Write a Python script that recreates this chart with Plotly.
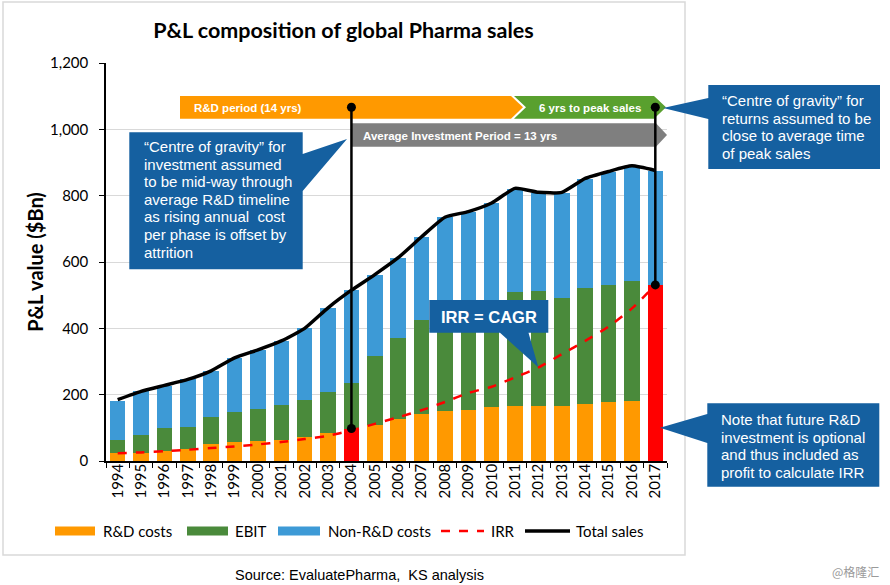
import plotly.graph_objects as go

# ---------------- data ----------------
years = list(range(1994, 2018))
rd_costs = [23, 25, 31, 37, 51, 56, 59, 64, 73, 83, 98, 110, 126, 141, 152, 154, 163, 166, 167, 167, 173, 178, 181, 0]
ebit = [40, 52, 68, 66, 83, 92, 98, 104, 111, 124, 136, 206, 246, 285, 303, 311, 312, 344, 345, 325, 350, 352, 363, 0]
profit_2017 = [0] * 23 + [531]
non_rd_costs = [119, 133, 128, 143, 137, 163, 177, 194, 216, 255, 281, 244, 241, 250, 280, 287, 302, 309, 295, 315, 327, 342, 341, 343]
irr = [23, 26, 30, 34, 39, 44, 50, 57, 66, 76, 92, 112, 132, 153, 178, 205, 224, 252, 282, 322, 362, 405, 460, 531]
total_sales = [185, 210, 228, 246, 272, 311, 335, 362, 400, 462, 515, 562, 613, 676, 735, 752, 778, 822, 810, 810, 852, 873, 890, 876]
y_ticks = [0, 200, 400, 600, 800, 1000, 1200]
y_tick_labels = ["0", "200", "400", "600", "800", "1,000", "1,200"]
highlight_year = 2004
peak_year = 2017

# ---------------- styling ----------------
ORANGE = "#FF9900"
GREEN = "#4A8A3B"
BLUE = "#3D9AD6"
RED = "#FF0000"
CALLOUT = "#1560A0"
ARROW_GREEN = "#59A02E"
GREY = "#7F7F7F"
CAL = "Lato, Carlito, Calibri, sans-serif"
ARIAL = "Liberation Sans, Arial, sans-serif"

# plot area in pixels
L, R, T, B = 106, 667, 63, 461
W, H = 890, 585


def px(x):
    return (x - L) / (R - L)


def py(y):
    return (B - y) / (B - T)


def dx(x):
    return 1993.5 + (x - L) / ((R - L) / 24)


def dy(y):
    return (B - y) * 1200 / (B - T)


rd_colors = [RED if yr == highlight_year else ORANGE for yr in years]

fig = go.Figure()
fig.add_bar(x=years, y=rd_costs, name="R&D costs", marker=dict(color=rd_colors, line=dict(width=0)))
fig.add_bar(x=years, y=ebit, name="EBIT", marker=dict(color=GREEN, line=dict(width=0)))
fig.add_bar(x=years, y=profit_2017, name="Profit", marker=dict(color=RED, line=dict(width=0)))
fig.add_bar(x=years, y=non_rd_costs, name="Non-R&D costs", marker=dict(color=BLUE, line=dict(width=0)))
fig.add_scatter(x=years, y=irr, name="IRR", mode="lines",
                line=dict(color=RED, width=2.5, dash="dash", shape="spline", smoothing=0.6))
fig.add_scatter(x=years, y=total_sales, name="Total sales", mode="lines",
                line=dict(color="black", width=3.5, shape="spline", smoothing=0.5))

# vertical "centre of gravity" lines with dots
top_y = dy(107.3)
i_h = years.index(highlight_year)
i_p = years.index(peak_year)
for xv, yv in [(highlight_year, rd_costs[i_h]), (peak_year, profit_2017[i_p])]:
    fig.add_scatter(x=[xv, xv], y=[yv, top_y], mode="lines+markers", showlegend=False,
                    line=dict(color="black", width=2.5),
                    marker=dict(color="black", size=9), hoverinfo="skip")

shapes = []
annotations = []

# outer frame
shapes.append(dict(type="rect", xref="paper", yref="paper", x0=px(3), x1=px(685), y0=py(555), y1=py(2),
                   line=dict(color="#D9D9D9", width=1.5), fillcolor="rgba(0,0,0,0)", layer="below"))


def data_path(pts):
    return "M " + " L ".join(f"{dx(a)},{dy(b)}" for a, b in pts) + " Z"


def paper_path(pts):
    return "M " + " L ".join(f"{px(a)},{py(b)}" for a, b in pts) + " Z"


# top arrows (timeline)
shapes.append(dict(type="path", xref="x", yref="y", layer="between", line=dict(width=0), fillcolor=ORANGE,
                   path=data_path([(180, 96), (511, 96), (523, 107.3), (511, 118.7), (180, 118.7)])))
shapes.append(dict(type="path", xref="x", yref="y", layer="between", line=dict(width=0), fillcolor=ARROW_GREEN,
                   path=data_path([(514, 96), (654, 96), (666, 107.3), (654, 118.7), (514, 118.7), (526, 107.3)])))
shapes.append(dict(type="path", xref="x", yref="y", layer="between", line=dict(width=0), fillcolor=GREY,
                   path=data_path([(352, 123.3), (656, 123.3), (667, 135), (656, 146.7), (352, 146.7)])))

for txt, x0, yc in [("R&D period (14 yrs)", 192, 107.5), ("6 yrs to peak sales", 537, 107.5),
                    ("Average Investment Period = 13 yrs", 361, 135.5)]:
    annotations.append(dict(text=f"<b>{txt}</b>", xref="paper", yref="paper", x=px(x0), y=py(yc),
                            xanchor="left", yanchor="middle", showarrow=False,
                            font=dict(family=ARIAL, size=11.5, color="white")))

# callouts
callouts = [
    ([(129.3, 132.3), (302.7, 132.3), (302.7, 154), (347, 139), (302.7, 191), (302.7, 269.3), (129.3, 269.3)],
     141.5, 146.5,
     ["“Centre of gravity” for", "investment assumed", "to be mid-way through", "average R&D timeline",
      "as rising annual  cost", "per phase is offset by", "attrition"]),
    ([(708.3, 85), (880, 85), (880, 169), (708.3, 169), (708.3, 119), (663, 108), (708.3, 98)],
     720, 100.5,
     ["“Centre of gravity” for", "returns assumed to be", "close to average time", "of peak sales"]),
    ([(707.3, 403.3), (879.3, 403.3), (879.3, 486.7), (707.3, 486.7), (707.3, 443), (660, 427.7), (707.3, 414)],
     719, 419.5,
     ["Note that future R&D", "investment is optional", "and thus included as", "profit to calculate IRR"]),
]
for pts, tx, ty0, lines in callouts:
    shapes.append(dict(type="path", xref="paper", yref="paper", layer="above", line=dict(width=0),
                       fillcolor=CALLOUT, path=paper_path(pts)))
    for k, ln in enumerate(lines):
        annotations.append(dict(text=ln, xref="paper", yref="paper", x=px(tx), y=py(ty0 + k * 17.6),
                                xanchor="left", yanchor="middle", showarrow=False,
                                font=dict(family=ARIAL, size=15, color="white")))

# IRR = CAGR callout
shapes.append(dict(type="path", xref="paper", yref="paper", layer="above", line=dict(width=0), fillcolor=CALLOUT,
                   path=paper_path([(429.3, 300), (548.3, 300), (548.3, 332.7), (528.5, 332.7), (538.3, 367.3),
                                    (500, 332.7), (429.3, 332.7)])))
annotations.append(dict(text="<b>IRR = CAGR</b>", xref="paper", yref="paper", x=px(488.8), y=py(316.5),
                        xanchor="center", yanchor="middle", showarrow=False,
                        font=dict(family=ARIAL, size=16.5, color="white")))

# manual legend
leg_y = 531
for x0, x1, kind, color, label, tx in [
    (55, 95, "bar", ORANGE, "R&D costs", 101),
    (187, 228, "bar", GREEN, "EBIT", 233),
    (278, 320, "bar", BLUE, "Non-R&D costs", 326),
    (441, 484, "dash", RED, "IRR", 489),
    (525, 570, "line", "black", "Total sales", 574),
]:
    if kind == "bar":
        shapes.append(dict(type="rect", xref="paper", yref="paper", x0=px(x0), x1=px(x1),
                           y0=py(leg_y + 4.5), y1=py(leg_y - 4.5), line=dict(width=0), fillcolor=color))
    else:
        shapes.append(dict(type="line", xref="paper", yref="paper", x0=px(x0), x1=px(x1),
                           y0=py(leg_y), y1=py(leg_y),
                           line=dict(color=color, width=2.5 if kind == "dash" else 3.5,
                                     dash="dash" if kind == "dash" else "solid")))
    annotations.append(dict(text=label, xref="paper", yref="paper", x=px(tx), y=py(leg_y),
                            xanchor="left", yanchor="middle", showarrow=False,
                            font=dict(family=CAL, size=15, color="black")))

# source and watermark
annotations.append(dict(text="Source: EvaluatePharma,  KS analysis", xref="paper", yref="paper",
                        x=px(359), y=py(575), xanchor="center", yanchor="middle", showarrow=False,
                        font=dict(family=ARIAL, size=14.5, color="black")))
annotations.append(dict(text="@格隆汇", xref="paper", yref="paper", x=px(855), y=py(571),
                        xanchor="center", yanchor="middle", showarrow=False,
                        font=dict(family="Noto Sans CJK SC", size=12, color="#9A9A9A")))

fig.update_layout(
    width=W, height=H,
    margin=dict(l=L, r=W - R, t=T, b=H - B, pad=0),
    paper_bgcolor="white", plot_bgcolor="white",
    barmode="stack", bargap=0.34,
    showlegend=False,
    title=dict(text="<b>P&L composition of global Pharma sales</b>", x=343.5 / W, xanchor="center",
               y=1 - 30 / H, yanchor="middle", font=dict(family=CAL, size=21.5, color="black")),
    xaxis=dict(range=[1993.5, 2017.5], tickmode="array", tickvals=years, ticktext=[str(y) for y in years],
               tickangle=-90, ticks="", showgrid=False, zeroline=False, ticklabelstandoff=-5,
               showline=True, linecolor="black", linewidth=1.5,
               tickfont=dict(family=CAL, size=15, color="black"),
               minor=dict(ticks="outside", tick0=1993.5, dtick=1, ticklen=5, tickcolor="black", tickwidth=1.2,
                          showgrid=False)),
    yaxis=dict(range=[0, 1200], tickmode="array", tickvals=y_ticks, ticktext=y_tick_labels,
               ticks="outside", ticklen=5, tickcolor="black", tickwidth=1.2, ticklabelstandoff=8,
               showgrid=True, gridcolor="#D9D9D9", gridwidth=1, zeroline=False,
               showline=True, linecolor="black", linewidth=1.5,
               tickfont=dict(family=CAL, size=15, color="black"),
               title=dict(text="<b>P&L value ($Bn)</b>", standoff=1,
                          font=dict(family=CAL, size=20, color="black"))),
    shapes=shapes,
    annotations=annotations,
)

fig.write_html("out.html", config={"displayModeBar": False},
               post_script="document.body.style.margin='0';document.body.style.padding='0';")
